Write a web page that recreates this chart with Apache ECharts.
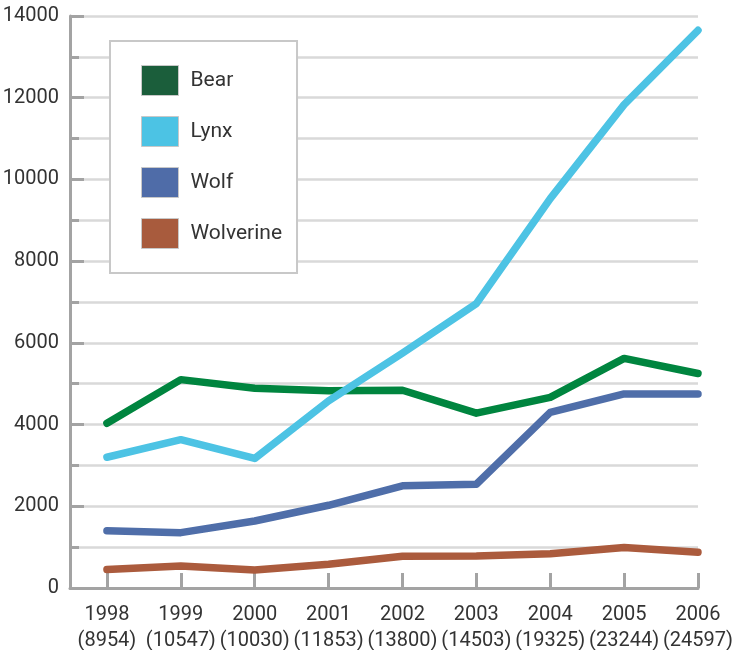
<!DOCTYPE html>
<html>
<head>
<meta charset="utf-8">
<script src="https://cdn.jsdelivr.net/npm/echarts@6/dist/echarts.min.js"></script>
<style>
    html, body { margin: 0; padding: 0; background: #fff; }
    #chart { width: 739px; height: 650px; }
</style>
</head>
<body>
<div id="chart"></div>
<script>
// years and the totals shown under each year
var years = [1998, 1999, 2000, 2001, 2002, 2003, 2004, 2005, 2006];
var totals = [8954, 10547, 10030, 11853, 13800, 14503, 19325, 23244, 24597];

// values
var bear = [4030, 5100, 4890, 4830, 4840, 4280, 4665, 5620, 5250];
var lynx = [3200, 3630, 3170, 4580, 5750, 6960, 9530, 11830, 13650];
var wolf = [1400, 1355, 1640, 2025, 2500, 2540, 4300, 4750, 4750];
var wolverine = [450, 540, 440, 580, 775, 785, 840, 990, 875];

var yTicks = [0, 2000, 4000, 6000, 8000, 10000, 12000, 14000];

var font = 'Roboto, "Liberation Sans", sans-serif';

function toPoints(vals) {
    return years.map(function (y, i) { return [y, vals[i]]; });
}

function makeSeries(name, vals, swatch, line) {
    return {
        name: name,
        type: 'line',
        symbol: 'none',
        data: toPoints(vals),
        itemStyle: { color: swatch },
        lineStyle: { color: line, width: 7.5, cap: 'round', join: 'round' }
    };
}

var chart = echarts.init(document.getElementById('chart'));
chart.setOption({
    animation: false,
    grid: { left: 70, right: 41, top: 16, bottom: 62, outerBoundsMode: 'none', containLabel: false },
    legend: {
        orient: 'vertical',
        left: 110,
        top: 41,
        icon: 'rect',
        itemWidth: 37,
        itemHeight: 30,
        itemGap: 20,
        padding: [24, 15, 24, 31],
        backgroundColor: '#fff',
        borderColor: '#c8c8c8',
        borderWidth: 2,
        itemStyle: { borderColor: '#c8c8c8', borderWidth: 1 },
        textStyle: { fontFamily: font, fontSize: 21, color: '#333', padding: [0, 0, 0, 7] },
        data: ['Bear', 'Lynx', 'Wolf', 'Wolverine']
    },
    xAxis: {
        type: 'value',
        min: 1997.5,
        max: 2006,
        splitLine: { show: false },
        axisLine: { show: true, lineStyle: { color: '#a3a3a3', width: 3 } },
        axisTick: {
            show: true,
            inside: true,
            length: 15,
            customValues: years,
            lineStyle: { color: '#a3a3a3', width: 3 }
        },
        axisLabel: {
            customValues: years,
            margin: 14,
            fontFamily: font,
            fontSize: 20,
            lineHeight: 26,
            color: '#333',
            formatter: function (v) {
                var i = years.indexOf(Math.round(v));
                return i < 0 ? '' : years[i] + '\n(' + totals[i] + ')';
            }
        }
    },
    yAxis: {
        type: 'value',
        min: yTicks[0],
        max: yTicks[yTicks.length - 1],
        interval: 2000,
        axisLine: { show: true, lineStyle: { color: '#a3a3a3', width: 3 } },
        axisTick: { show: true, inside: true, length: 14, lineStyle: { color: '#a3a3a3', width: 3 } },
        minorTick: { show: true, splitNumber: 2, length: 9, lineStyle: { color: '#a3a3a3', width: 3 } },
        splitLine: { show: true, lineStyle: { color: '#d9d9d9', width: 2.5 } },
        minorSplitLine: { show: true, lineStyle: { color: '#d9d9d9', width: 2.5 } },
        axisLabel: {
            margin: 11,
            fontFamily: font,
            fontSize: 20,
            color: '#333',
            formatter: function (v) { return String(v); }
        }
    },
    series: [
        makeSeries('Bear', bear, '#1b5e3b', '#00853f'),
        makeSeries('Lynx', lynx, '#4cc3e4', '#4dc3e4'),
        makeSeries('Wolf', wolf, '#4f6ca8', '#4f6ea9'),
        makeSeries('Wolverine', wolverine, '#a85b3d', '#ab5b3d')
    ]
});
</script>
</body>
</html>
